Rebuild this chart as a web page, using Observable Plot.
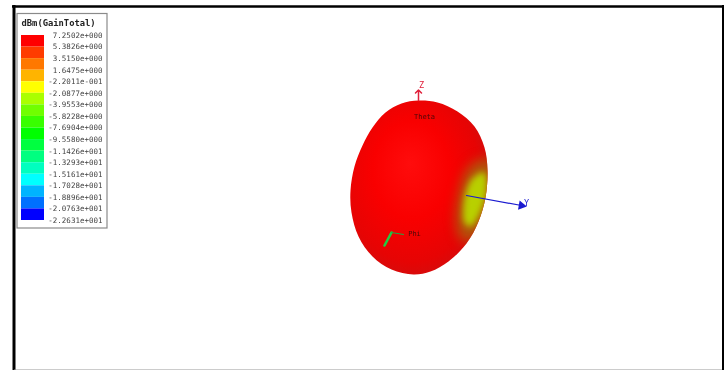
<!DOCTYPE html>
<html><head><meta charset="utf-8">
<script src="https://cdn.jsdelivr.net/npm/d3@7"></script>
<script src="https://cdn.jsdelivr.net/npm/@observablehq/plot@0.6"></script>
<style>
html,body{margin:0;padding:0;background:#fff;overflow:hidden}
svg{display:block;filter:blur(.5px)}
.soft1{filter:blur(6px)}
.soft2{filter:blur(3px)}
</style></head><body>
<script>
const legendLabels = ["7.2502e+000","5.3826e+000","3.5150e+000","1.6475e+000","-2.2011e-001","-2.0877e+000","-3.9553e+000","-5.8228e+000","-7.6904e+000","-9.5580e+000","-1.1426e+001","-1.3293e+001","-1.5161e+001","-1.7028e+001","-1.8896e+001","-2.0763e+001","-2.2631e+001"];
const legendColors = ["#ff0000","#ff3c00","#ff7800","#ffb400","#ffff00","#aaff00","#70ff00","#38ff00","#00ff00","#00ff40","#00ff80","#00ffbf","#00ffff","#00b4ff","#0070ff","#0000ff"];
const patternOutline = [[418,100],[437,102],[457,111],[474,126],[484,147],[487,170],[485,197],[478,221],[466,243],[448,261],[430,271],[413,274],[391,269],[372,256],[358,236],[351,212],[350,190],[354,166],[362,145],[372,127],[385,112],[401,103]];
const rimShade = [[478,160],[492,160],[492,205],[480,235],[462,240],[456,225],[458,195],[466,170]];
const dimple = [[472,178],[484,172],[486,192],[479,214],[470,226],[464,222],[463,205],[466,190]];
const zAxis = [[418,100],[418,91]];
const yAxis = [[466,195],[521,205]];
const phiAxisA = [[384,245],[391,232]];
const phiAxisB = [[391,232],[403,234]];
const axisLabels = [
  {t:"Z",x:421,y:85,c:"#e0203a",s:8.5,w:"bold"},
  {t:"Y",x:526,y:203,c:"#1a1ad0",s:8.5,w:"bold"},
  {t:"Theta",x:424,y:116,c:"#4a0808",s:7,w:"bold"},
  {t:"Phi",x:414,y:233,c:"#4a0808",s:7,w:"bold"}
];
const legendTitle = "dBm(GainTotal)";
const cellTop = i => 35 + i * 185 / 16;
const mono = "'DejaVu Sans Mono', monospace";

const defs = () => {
  const s = d3.create("svg:g");
  const d = s.append("defs");
  const g = d.append("radialGradient").attr("id","lobe")
    .attr("cx","0.45").attr("cy","0.45").attr("r","0.62").attr("fx","0.44").attr("fy","0.36");
  [[0,"#ff0c0c"],[.45,"#f90000"],[.8,"#e60404"],[1,"#cc1010"]].forEach(([o,c]) =>
    g.append("stop").attr("offset",o).attr("stop-color",c));
  d.append("clipPath").attr("id","lobeClip").append("path").attr("id","lobeClipPath");
  return s.node();
};
// Shading on the lobe stays inside the lobe's own drawn outline.
const lobeRender = (index, scales, values, dims, ctx, next) => {
  const g = next(index, scales, values, dims, ctx);
  setTimeout(() => {
    const p = g.querySelector("path");
    document.getElementById("lobeClipPath").setAttribute("d", p.getAttribute("d"));
  });
  return g;
};
const clipped = (index, scales, values, dims, ctx, next) => {
  const g = next(index, scales, values, dims, ctx);
  g.setAttribute("clip-path", "url(#lobeClip)");
  return g;
};

const plot = Plot.plot({
  width:724, height:370, margin:0,
  x:{domain:[0,724],axis:null}, y:{domain:[370,0],axis:null},
  style:{background:"#fff"},
  marks:[
    defs,
    Plot.ruleX([13.5],{y1:5,y2:370,stroke:"#000",strokeWidth:3}),
    Plot.ruleX([723],{y1:5,y2:370,stroke:"#000",strokeWidth:3}),
    Plot.ruleY([6],{x1:12,x2:724,stroke:"#000",strokeWidth:2.5}),
    Plot.ruleY([369.5],{x1:14,x2:722,stroke:"#999",strokeWidth:1}),
    Plot.rect([0],{x1:17,x2:107,y1:13.5,y2:228,fill:"#fff",stroke:"#8a8a8a",strokeWidth:1.2}),
    Plot.text([legendTitle],{x:21,y:23,text:d=>d,textAnchor:"start",fontFamily:mono,fontWeight:"bold",fontSize:8.8,fill:"#222"}),
    Plot.rect(legendColors,{x1:21,x2:44,y1:(d,i)=>cellTop(i),y2:(d,i)=>cellTop(i+1),fill:d=>d}),
    Plot.text(legendLabels,{x:102,y:(d,i)=>cellTop(i),text:d=>d,textAnchor:"end",fontFamily:mono,fontSize:7.5,fill:"#444"}),
    Plot.line(patternOutline,{x:"0",y:"1",curve:"catmull-rom-closed",fill:"url(#lobe)",stroke:"none",render:lobeRender}),
    Plot.line(rimShade,{x:"0",y:"1",curve:"catmull-rom-closed",fill:"#a8640c",fillOpacity:0.85,stroke:"none",className:"soft1",render:clipped}),
    Plot.line(dimple,{x:"0",y:"1",curve:"catmull-rom-closed",fill:"#b8d000",stroke:"none",className:"soft2",render:clipped}),
    Plot.line(zAxis,{x:"0",y:"1",stroke:"#e0203a",strokeWidth:1.5,markerEnd:"arrow"}),
    Plot.line(yAxis,{x:"0",y:"1",stroke:"#1a1ad0",strokeWidth:1.2}),
    Plot.dot([yAxis[1]],{x:"0",y:"1",symbol:"triangle",r:3.5,rotate:100,fill:"#1a1ad0"}),
    Plot.line(phiAxisA,{x:"0",y:"1",stroke:"#22cc44",strokeWidth:2.6}),
    Plot.line(phiAxisB,{x:"0",y:"1",stroke:"#22aa44",strokeWidth:1}),
    Plot.text(axisLabels,{x:"x",y:"y",text:"t",fill:"c",fontSize:d=>d.s,fontWeight:d=>d.w,fontFamily:mono})
  ]
});
document.body.append(plot);
</script>
</body></html>
